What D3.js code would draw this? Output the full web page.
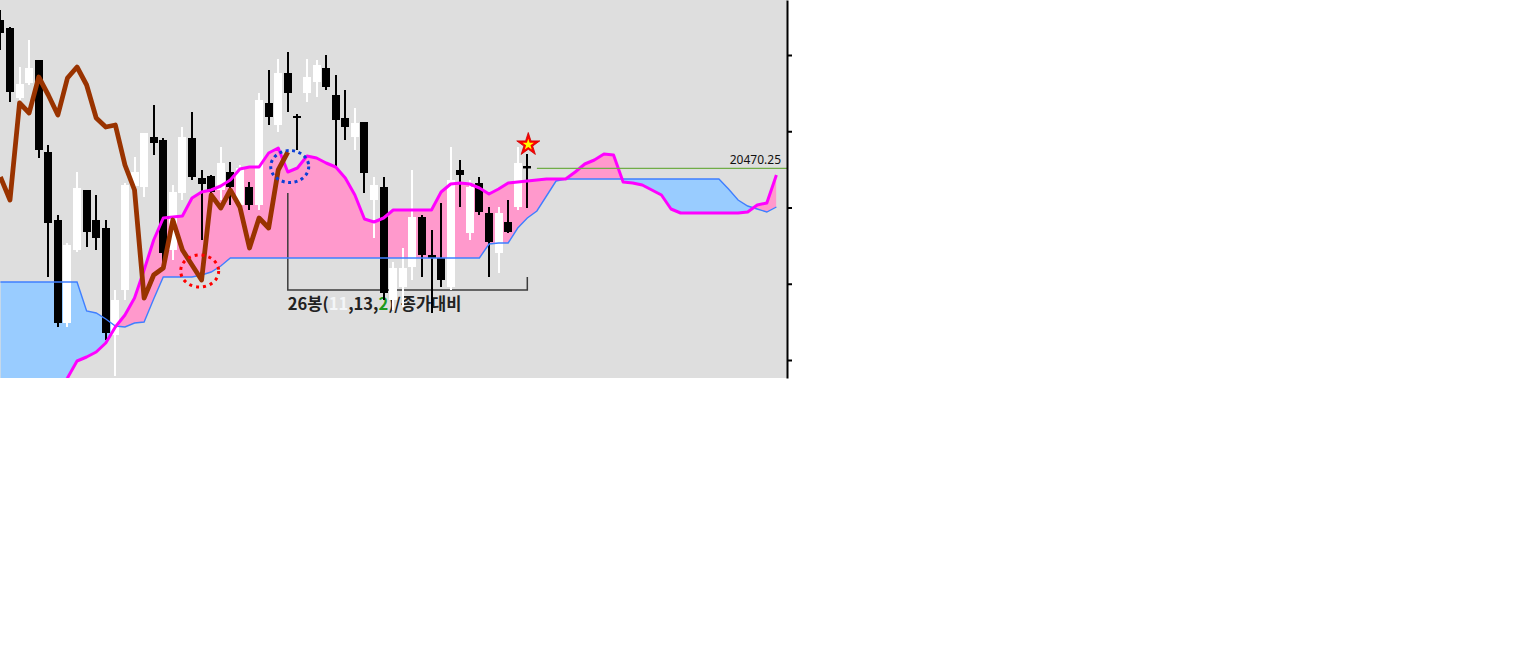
<!DOCTYPE html>
<html>
<head>
<meta charset="utf-8">
<script src="https://cdn.jsdelivr.net/npm/d3@7"></script>
<style>
  body { margin: 0; background: #ffffff; }
</style>
</head>
<body>
<div id="chart"></div>
<script>
// candle data (prices)
/////////////////////
var opens = [20589, 20582.6, 20526.6, 20538.6, 20557, 20483.4, 20429, 20346.6, 20405, 20453,
  20429, 20422.6, 20337, 20373, 20456.2, 20455.4, 20495.4, 20493, 20405, 20450.6,
  20494.6, 20462.6, 20464.2, 20453, 20467.4, 20441, 20455.4, 20441, 20522.6, 20505,
  20546.6, 20512.2, 20530.6, 20539.4, 20550.6, 20529, 20510.6, 20495.4, 20507.4, 20445,
  20455.4, 20365, 20375.4, 20391.4, 20431.4, 20401, 20398.6, 20375.4, 20469, 20418.6,
  20458.6, 20434.6, 20402.6, 20427.4, 20439.4, 20472.2];
var highs = [20597, 20583.4, 20551.4, 20573, 20557, 20489, 20433, 20410.6, 20467.4, 20453,
  20449, 20429, 20373, 20458.6, 20479.4, 20498.6, 20521, 20494.6, 20457, 20503.4,
  20515.4, 20469, 20465, 20487.4, 20475.4, 20473, 20459.4, 20530.6, 20549, 20557.8,
  20563.4, 20513.8, 20557.8, 20557, 20561, 20545, 20533, 20518.6, 20507.4, 20463.4,
  20463.4, 20395.4, 20406.6, 20469, 20433, 20421, 20442.6, 20487.4, 20477, 20461,
  20463.4, 20439.4, 20439.4, 20445, 20487.4, 20481.8];
var lows = [20565, 20523.4, 20525, 20537, 20478.6, 20383.4, 20343.4, 20343.4, 20403.4, 20407.4,
  20405, 20333, 20304.2, 20365, 20453, 20447.4, 20481, 20394.6, 20397, 20445,
  20461, 20413, 20447.4, 20445, 20441, 20437, 20437, 20437, 20505, 20499.4,
  20515.4, 20485, 20523.4, 20527.4, 20533, 20471.4, 20493, 20485, 20450.6, 20414.6,
  20365, 20357, 20359.4, 20381, 20383.4, 20354.6, 20375.4, 20373, 20439.4, 20413,
  20433, 20383.4, 20386.6, 20418.6, 20437, 20438.6];
var closes = [20578.6, 20531.4, 20537.8, 20550.6, 20485, 20426.6, 20346.6, 20409, 20454.6, 20419.4,
  20414.6, 20338.6, 20365, 20457, 20467.4, 20498.6, 20490.6, 20402.6, 20451.4, 20495.4,
  20463.4, 20457.8, 20451.4, 20474.6, 20455.4, 20470.6, 20441, 20525, 20511.4, 20546.6,
  20530.6, 20510.6, 20543.4, 20553, 20535.4, 20509, 20503.4, 20506.6, 20466.6, 20457,
  20370.6, 20390.6, 20390.6, 20431.4, 20401, 20398.6, 20381, 20461, 20465, 20455.4,
  20435.4, 20411.4, 20434.6, 20419.4, 20474.6, 20470.25];

// lagging line (brown), from bar 0
var lagging = [20463.4, 20445, 20522.6, 20514.6, 20543.4, 20529, 20513, 20542.6, 20551.4, 20537,
  20510.6, 20503.4, 20505, 20473, 20453, 20366.6, 20385, 20390.6, 20429, 20405,
  20393, 20381, 20449, 20438.6, 20453, 20439.4, 20406.6, 20430.6, 20422.6, 20469,
  20483.4];

// leading spans (cloud), 26 bars past the last candle
var spanA = [20229, 20237, 20245, 20253, 20265, 20277, 20289.8,
  20302.6, 20316.2, 20319.4, 20323.4, 20330.6, 20343.4, 20353, 20366.6, 20389,
  20413, 20430.6, 20431.4, 20432.2, 20446.6, 20451.4, 20453, 20456.2, 20461,
  20469.8, 20471.4, 20471.4, 20482.6, 20486.6, 20467.4, 20470.6, 20480.2, 20478.6,
  20474.6, 20471.4, 20462.6, 20449, 20429.8, 20427.4, 20430.6,
  20437, 20437, 20437, 20437, 20437,
  20451.4, 20457.8, 20458.6, 20457.8, 20454.6, 20449.8, 20453.8, 20458.6, 20459.4, 20460.2, 20461,
  20461.8, 20461.8, 20461.8,
  20467.4, 20473.8, 20477, 20481.8, 20481,
  20459.4, 20458.6, 20457, 20453, 20449, 20437.8,
  20434.6, 20434.6, 20434.6, 20434.6, 20434.6, 20434.6, 20434.6,
  20435.4, 20441, 20442.6, 20465];
var spanB = [20379.4, 20379.4, 20379.4, 20379.4, 20379.4, 20379.4, 20379.4, 20379.4, 20379.4,
  20356.2, 20354.6, 20349.8, 20344.2, 20343.4, 20346.6, 20347.4, 20365.8,
  20383.4, 20383.4, 20383.4, 20383.4,
  20385, 20387.4, 20392.2,
  20398.6, 20398.6, 20398.6, 20398.6, 20398.6, 20398.6, 20398.6, 20398.6, 20398.6,
  20398.6, 20398.6, 20398.6, 20398.6, 20398.6, 20398.6, 20398.6, 20398.6, 20398.6,
  20398.6, 20398.6, 20398.6, 20398.6, 20398.6, 20398.6, 20398.6, 20398.6, 20398.6,
  20409.8, 20410.6, 20410.6, 20422.6, 20430.6, 20436.2, 20448.2, 20460.2,
  20461.8, 20461.8, 20461.8, 20461.8, 20461.8, 20461.8, 20461.8, 20461.8, 20461.8,
  20461.8, 20461.8, 20461.8, 20461.8, 20461.8, 20461.8, 20461.8, 20461.8,
  20453.8, 20445, 20440.2, 20437.8, 20435.4, 20439.4];

var priceTicks = [20561, 20500, 20439, 20378, 20317];
var lastPrice = 20470.25;

// marks drawn on the chart
var redCircle = {i: 20.8, price: 20388.2};
var blueCircle = {i: 30.2, price: 20471.8};
var starMark = {i: 55.1, price: 20489.3};
var bracket = {from: 30, to: 55, top: 20450.6, base: 20373, right: 20383.4};
var bracketLabel = [
  {t: '26봉(', c: '#222222'},
  {t: '11', c: '#f4f6f8'},
  {t: ',13,', c: '#222222'},
  {t: '2', c: '#1e9a1e'},
  {t: ')/종가대비', c: '#222222'}
];

// chart
////////////////////
var plot_w = 787;
var plot_h = 378;

var svg = d3.select('#chart')
  .append('svg')
  .attr('width', 1536)
  .attr('height', 648);

var x = d3.scaleLinear().domain([0, 81]).range([0.4, 776.4]);
var y = d3.scaleLinear().domain([20302.6, 20605]).range([plot_h, 0]);

// background
svg.append('rect')
  .attr('width', plot_w)
  .attr('height', plot_h)
  .attr('fill', '#dedede');

var defs = svg.append('defs');
defs.append('clipPath').attr('id', 'clip-plot')
  .append('rect').attr('width', plot_w).attr('height', plot_h);

var cloud = spanA.map(function(a, i){ return {i: i, a: a, b: spanB[i]}; });

defs.append('clipPath').attr('id', 'clip-above')
  .append('path')
  .attr('d', d3.area().x(function(d){ return x(d.i); }).y0(-50).y1(function(d){ return y(d.b); })(cloud));
defs.append('clipPath').attr('id', 'clip-below')
  .append('path')
  .attr('d', d3.area().x(function(d){ return x(d.i); }).y0(1000).y1(function(d){ return y(d.b); })(cloud));

var plot = svg.append('g').attr('clip-path', 'url(#clip-plot)');

// cloud fills
var between = d3.area()
  .x(function(d){ return x(d.i); })
  .y0(function(d){ return y(d.b); })
  .y1(function(d){ return y(d.a); });

plot.append('path')
  .datum(cloud)
  .attr('clip-path', 'url(#clip-above)')
  .attr('fill', '#ff99cc')
  .attr('d', between);

plot.append('path')
  .datum(cloud)
  .attr('clip-path', 'url(#clip-below)')
  .attr('fill', '#99ccff')
  .attr('d', between);

// bracket and its label
var bx0 = x(bracket.from), bx1 = x(bracket.to);
plot.append('path')
  .attr('fill', 'none')
  .attr('stroke', '#3c3c3c')
  .attr('stroke-width', 1.5)
  .attr('d', 'M' + bx0 + ',' + y(bracket.top) + 'V' + y(bracket.base) +
    'H' + bx1 + 'V' + y(bracket.right));

var label = plot.append('text')
  .attr('x', bx0)
  .attr('y', y(bracket.base) + 20)
  .attr('font-family', '"Noto Sans CJK KR", "Noto Sans", sans-serif')
  .attr('font-weight', 'bold')
  .attr('font-size', '16.5px');
label.selectAll('tspan')
  .data(bracketLabel)
  .enter().append('tspan')
  .attr('fill', function(d){ return d.c; })
  .text(function(d){ return d.t; });

// candles
var candles = opens.map(function(o, i){
  return {i: i, o: o, h: highs[i], l: lows[i], c: closes[i]};
});

var cg = plot.append('g')
  .selectAll('g')
  .data(candles)
  .enter().append('g');

cg.append('rect')
  .attr('x', function(d){ return Math.round(x(d.i)) - 1; })
  .attr('width', 2)
  .attr('y', function(d){ return y(d.h); })
  .attr('height', function(d){ return y(d.l) - y(d.h); })
  .attr('fill', function(d){ return d.c >= d.o ? '#ffffff' : '#000000'; });

cg.append('rect')
  .attr('x', function(d){ return Math.round(x(d.i)) - 4; })
  .attr('width', 8)
  .attr('y', function(d){ return y(Math.max(d.o, d.c)); })
  .attr('height', function(d){ return Math.max(2, Math.abs(y(d.o) - y(d.c))); })
  .attr('fill', function(d){ return d.c >= d.o ? '#ffffff' : '#000000'; });

// span lines
plot.append('path')
  .datum(cloud)
  .attr('fill', 'none')
  .attr('stroke', '#3f7fff')
  .attr('stroke-width', 1.4)
  .attr('d', d3.line().x(function(d){ return x(d.i); }).y(function(d){ return y(d.b); }));

plot.append('path')
  .datum(cloud)
  .attr('fill', 'none')
  .attr('stroke', '#ff00ff')
  .attr('stroke-width', 3)
  .attr('stroke-linejoin', 'round')
  .attr('d', d3.line().x(function(d){ return x(d.i); }).y(function(d){ return y(d.a); }));

// lagging line
plot.append('path')
  .datum(lagging)
  .attr('fill', 'none')
  .attr('stroke', '#993300')
  .attr('stroke-width', 4.8)
  .attr('stroke-linejoin', 'round')
  .attr('d', d3.line().x(function(d, i){ return x(i); }).y(function(d){ return y(d); }));

// last price line
plot.append('line')
  .attr('x1', x(opens.length))
  .attr('x2', plot_w)
  .attr('y1', y(lastPrice))
  .attr('y2', y(lastPrice))
  .attr('stroke', '#70ad47')
  .attr('stroke-width', 1.2);

svg.append('text')
  .attr('x', 781)
  .attr('y', y(lastPrice) - 4)
  .attr('text-anchor', 'end')
  .attr('font-family', '"Noto Sans", sans-serif')
  .attr('font-size', '12px')
  .attr('fill', '#111111')
  .text(d3.format('.2f')(lastPrice));

// dotted circles
plot.append('ellipse')
  .attr('cx', x(redCircle.i)).attr('cy', y(redCircle.price))
  .attr('rx', 19).attr('ry', 16)
  .attr('fill', 'none')
  .attr('stroke', '#ff0000')
  .attr('stroke-width', 3)
  .attr('stroke-dasharray', '3,4');

plot.append('ellipse')
  .attr('cx', x(blueCircle.i)).attr('cy', y(blueCircle.price))
  .attr('rx', 19).attr('ry', 16)
  .attr('fill', 'none')
  .attr('stroke', '#0b3fd6')
  .attr('stroke-width', 3)
  .attr('stroke-dasharray', '3,3.5');

// star
var star = svg.append('g')
  .attr('transform', 'translate(' + x(starMark.i) + ',' + y(starMark.price) + ')');
star.append('path')
  .attr('d', d3.symbol(d3.symbolStar, 165)())
  .attr('fill', '#ff0000')
  .attr('stroke', '#cc0000')
  .attr('stroke-width', 0.8);
star.append('path')
  .attr('d', d3.symbol(d3.symbolStar, 40)())
  .attr('fill', '#ffff00');

// right price axis
var axis = svg.append('g')
  .attr('transform', 'translate(' + plot_w + ',0)')
  .call(d3.axisRight(y).tickValues(priceTicks).tickSize(5).tickSizeOuter(0).tickFormat(''));
axis.select('.domain').attr('stroke', '#000').attr('stroke-width', 2);
axis.selectAll('.tick line').attr('stroke', '#000').attr('stroke-width', 2);
</script>
</body>
</html>
